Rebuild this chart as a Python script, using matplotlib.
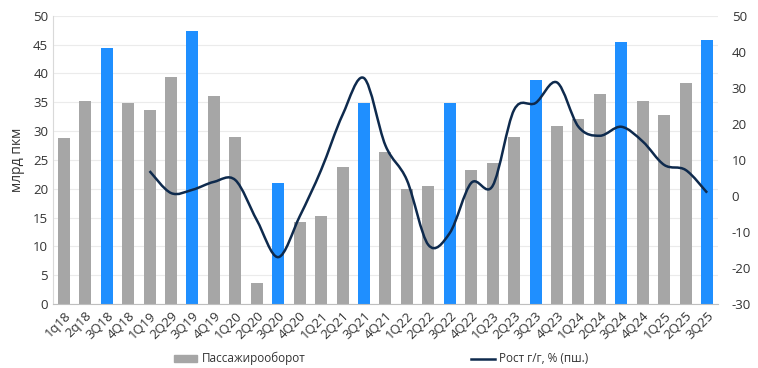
import matplotlib
matplotlib.use("Agg")
import matplotlib.pyplot as plt
from matplotlib.path import Path
from matplotlib.patches import PathPatch
from matplotlib.lines import Line2D
from matplotlib.patches import Patch

plt.rcParams["font.family"] = ["Open Sans", "DejaVu Sans"]
plt.rcParams["axes.unicode_minus"] = False

quarters = ["1q18", "2q18", "3Q18", "4Q18", "1Q19", "2Q29", "3Q19", "4Q19",
            "1Q20", "2Q20", "3Q20", "4Q20", "1Q21", "2Q21", "3Q21", "4Q21",
            "1Q22", "2Q22", "3Q22", "4Q22", "1Q23", "2Q23", "3Q23", "4Q23",
            "1Q24", "2Q24", "3Q24", "4Q24", "1Q25", "2Q25", "3Q25"]
turnover = [28.8, 35.2, 44.4, 34.9, 33.7, 39.4, 47.4, 36.1,
            29.0, 3.7, 21.0, 14.2, 15.3, 23.8, 34.9, 26.4,
            20.0, 20.5, 34.9, 23.3, 24.5, 29.0, 38.9, 30.9,
            32.1, 36.5, 45.5, 35.2, 32.8, 38.4, 45.8]
# рост г/г начинается с 1Q19
growth = [6.9, 0.8, 1.7, 3.9, 4.4, -6.7, -17.0, -5.7,
          7.2, 22.5, 32.7, 14.0, 4.4, -13.6, -10.3, 3.6,
          2.8, 23.9, 25.8, 31.5, 19.2, 16.7, 19.2, 15.1,
          8.6, 7.2, 0.9]
growth_start = 4

GRAY = "#A6A6A6"
BLUE = "#1F8FFF"
NAVY = "#0E2A4D"

fig = plt.figure(figsize=(7.58, 3.68), dpi=100)
ax = fig.add_axes([0.070, 0.174, 0.877, 0.783])
ax2 = ax.twinx()

x = list(range(len(quarters)))
colors = [BLUE if q.startswith("3Q") else GRAY for q in quarters]
ax.bar(x, turnover, width=0.56, color=colors, zorder=2)

ax.set_xlim(-0.5, len(quarters) - 0.5)
ax.set_ylim(0, 50)
ax.set_yticks(range(0, 51, 5))
ax.grid(axis="y", color="#EBEBEB", linewidth=0.8, zorder=0)
ax.set_axisbelow(True)
ax.set_xticks(x)
ax.set_xticklabels(quarters, rotation=45, ha="right", rotation_mode="anchor",
                   fontsize=8.5, color="#333333")
ax.tick_params(axis="both", length=0, labelsize=9.5, colors="#333333")
ax.tick_params(axis="x", pad=4)
for s in ["top", "right"]:
    ax.spines[s].set_visible(False)
ax.spines["left"].set_color("#D9D9D9")
ax.spines["bottom"].set_color("#BFBFBF")
ax.set_ylabel("млрд пкм", fontsize=10, color="#333333", labelpad=6)

# сглаженная линия (кривые Безье через точки)
gx = [growth_start + i for i in range(len(growth))]
pts = list(zip(gx, growth))
verts = [pts[0]]
codes = [Path.MOVETO]
n = len(pts)
for i in range(n - 1):
    p0 = pts[i - 1] if i > 0 else pts[i]
    p1 = pts[i]
    p2 = pts[i + 1]
    p3 = pts[i + 2] if i + 2 < n else pts[i + 1]
    c1 = (p1[0] + (p2[0] - p0[0]) / 6, p1[1] + (p2[1] - p0[1]) / 6)
    c2 = (p2[0] - (p3[0] - p1[0]) / 6, p2[1] - (p3[1] - p1[1]) / 6)
    verts += [c1, c2, p2]
    codes += [Path.CURVE4] * 3
ax2.add_patch(PathPatch(Path(verts, codes), facecolor="none", edgecolor=NAVY,
                        linewidth=1.8, zorder=3))
ax2.set_ylim(-30, 50)
ax2.set_yticks(range(-30, 51, 10))
ax2.tick_params(axis="y", length=0, labelsize=9.5, colors="#333333", pad=10)
for s in ax2.spines.values():
    s.set_visible(False)

handles = [Patch(color=GRAY), Line2D([0], [0], color=NAVY, linewidth=1.8)]
fig.legend(handles, ["Пассажирооборот", "Рост г/г, % (пш.)"], loc="lower center",
           bbox_to_anchor=(0.503, -0.022), ncol=2, frameon=False, fontsize=8.5,
           columnspacing=14, handlelength=2.0, handleheight=0.5,
           handletextpad=0.4, labelcolor="#333333")

fig.savefig("out.png", dpi=100)
